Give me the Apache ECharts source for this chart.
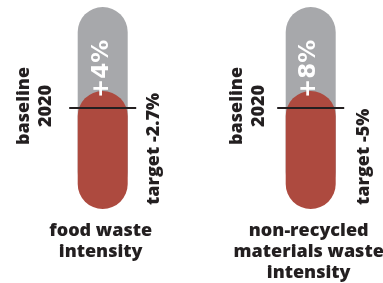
<!DOCTYPE html>
<html>
<head>
<meta charset="utf-8">
<script src="https://cdn.jsdelivr.net/npm/echarts@6/dist/echarts.min.js"></script>
<style>
  html, body { margin: 0; padding: 0; background: #fff; }
  #chart { width: 383px; height: 283px; }
</style>
</head>
<body>
<div id="chart"></div>
<script>
// data
const categories = ['food waste\nintensity', 'non-recycled\nmaterials waste\nintensity'];
const changes = [4, 8];          // % change since baseline 2020
const targets = [-2.7, -5];      // target %
const baselineText = 'baseline\n2020';

const GRAY = '#a7a8ab';
const RED = '#ad4a3f';
const INK = '#231f20';
const FONT = '"Open Sans", sans-serif';

// where each panel sits and how its side texts are offset from the bar centre
const panels = [
  { left: 52.7, baseDx: -68, targetDx: 51, changeDx: -1 },
  { left: 260.7, baseDx: -63, targetDx: 53, changeDx: -2 }
];

const chart = echarts.init(document.getElementById('chart'));

const grids = [], xAxes = [], yAxes = [], series = [];
panels.forEach((p, i) => {
  grids.push({ left: p.left, top: 7, width: 100, height: 202, outerBoundsMode: 'none', containLabel: false });
  xAxes.push({
    gridIndex: i,
    type: 'category',
    data: [categories[i]],
    axisLine: { show: false },
    axisTick: { show: false },
    axisLabel: {
      margin: 11,
      padding: [0, 4, 0, 0],
      color: INK,
      fontFamily: FONT,
      fontWeight: 800,
      fontSize: 18,
      lineHeight: 21,
      interval: 0
    }
  });
  yAxes.push({ gridIndex: i, type: 'value', min: -changes[i], max: changes[i], show: false });
  series.push({
    type: 'custom',
    xAxisIndex: i,
    yAxisIndex: i,
    data: [[0, changes[i], targets[i]]],
    renderItem: function (params, api) {
      const v = api.value(1);
      const t = api.value(2);
      const top = api.coord([0, v]);
      const zero = api.coord([0, 0]);
      const bottom = api.coord([0, -v]);
      const w = api.size([1, 0])[0] * 0.5;
      const cx = top[0];
      const r = w / 2;
      return {
        type: 'group',
        children: [
          { type: 'rect', shape: { x: cx - r, y: top[1], width: w, height: bottom[1] - top[1] - 12, r: r },
            style: { fill: GRAY } },
          { type: 'rect', shape: { x: cx - r, y: zero[1] - 17, width: w, height: bottom[1] - zero[1] + 17, r: r },
            style: { fill: RED } },
          { type: 'line', shape: { x1: cx - r - 8.5, y1: zero[1], x2: cx + r + 8.5, y2: zero[1] },
            style: { stroke: INK, lineWidth: 2 } },
          { type: 'text', x: cx + p.changeDx, y: zero[1] - 10, rotation: Math.PI / 2,
            style: { text: '+' + v + '%', fill: '#fff', font: 'bold 23px "DejaVu Sans"',
              textAlign: 'left', textVerticalAlign: 'middle' } },
          { type: 'text', x: cx + p.baseDx, y: zero[1] - 2, rotation: Math.PI / 2,
            style: { text: baselineText, fill: INK, font: '800 18px ' + FONT, lineHeight: 22,
              textAlign: 'center', textVerticalAlign: 'middle' } },
          { type: 'text', x: cx + p.targetDx, y: bottom[1] - 4, rotation: Math.PI / 2,
            style: { text: 'target ' + t + '%', fill: INK, font: '800 18px ' + FONT,
              textAlign: 'left', textVerticalAlign: 'middle' } }
        ]
      };
    }
  });
});

chart.setOption({
  animation: false,
  grid: grids,
  xAxis: xAxes,
  yAxis: yAxes,
  series: series
});
</script>
</body>
</html>
